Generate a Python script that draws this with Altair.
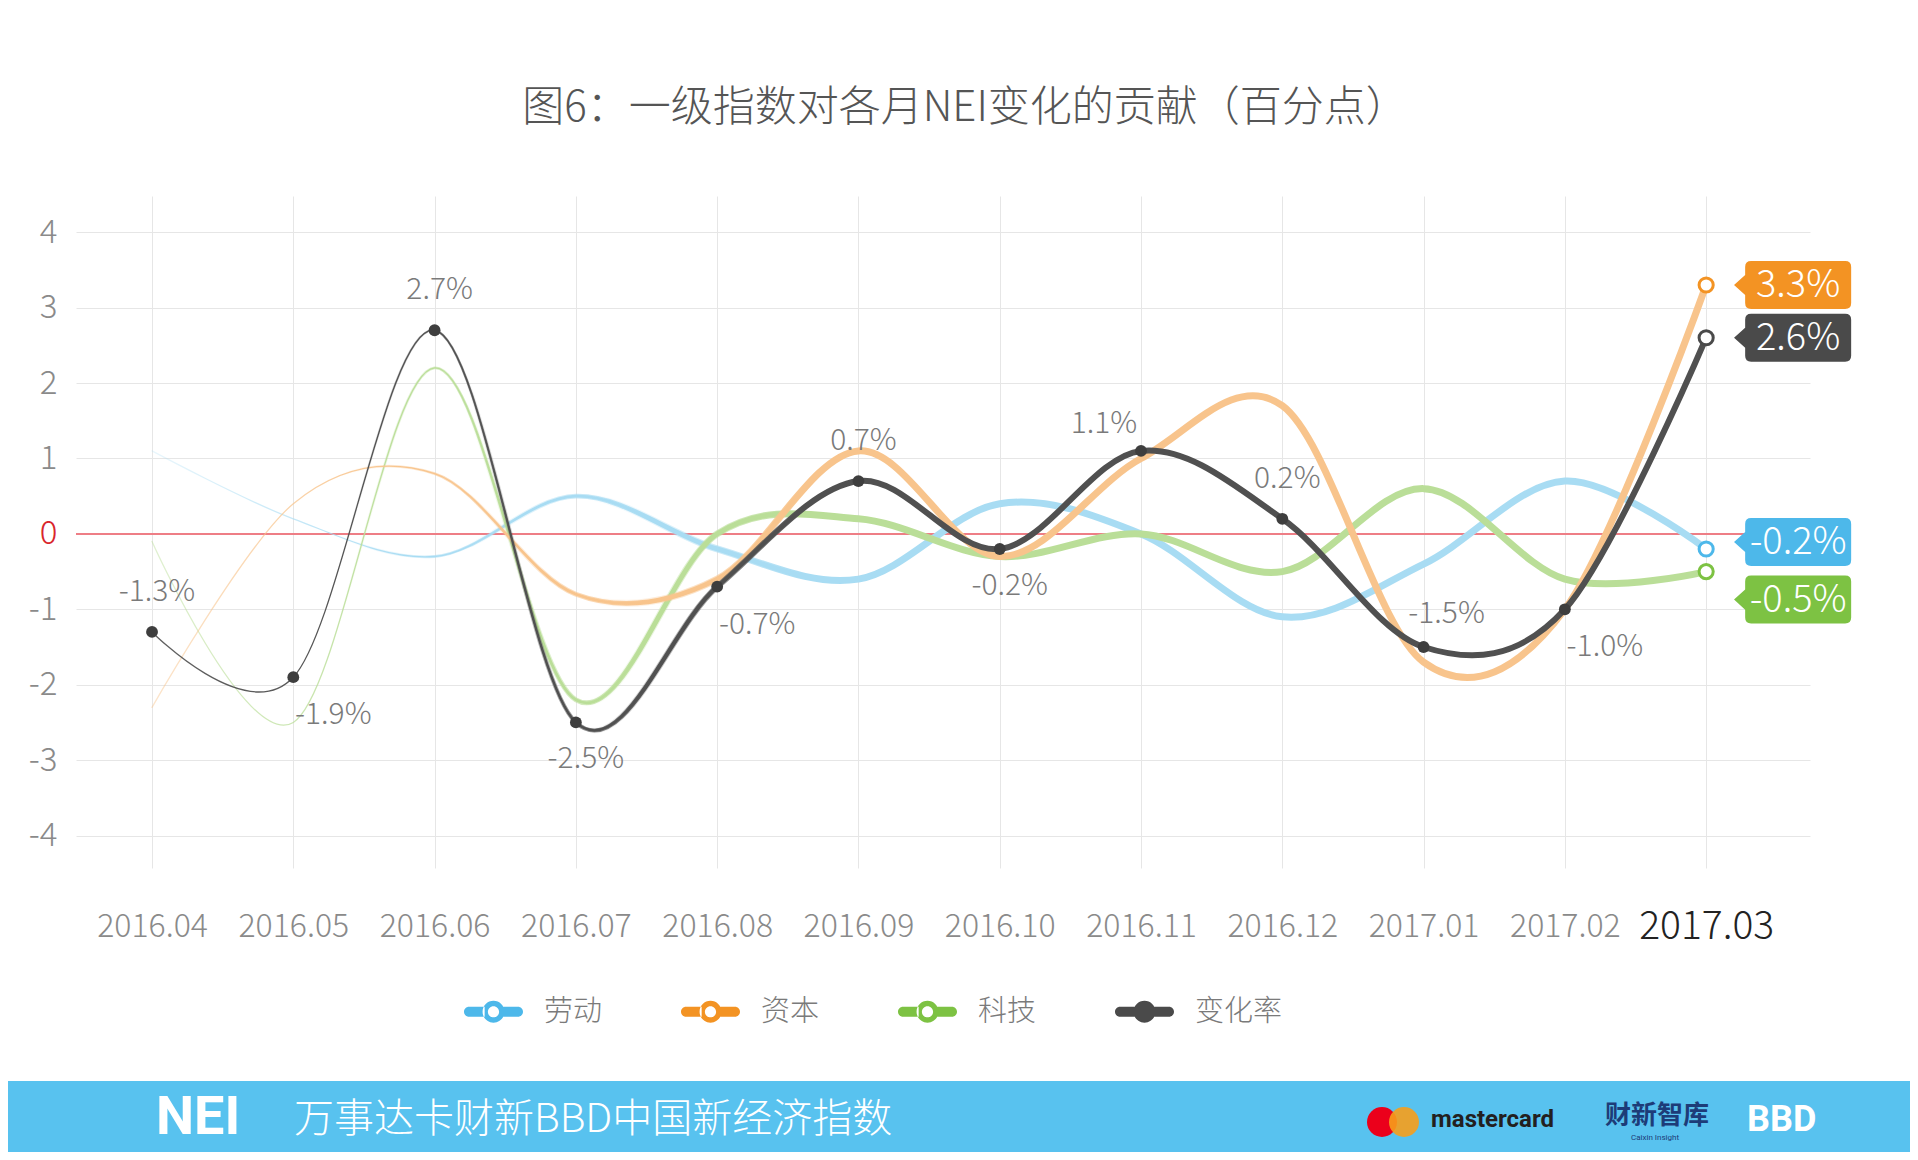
import altair as alt
import pandas as pd

# ---------------- data ----------------
months = ["2016.04", "2016.05", "2016.06", "2016.07", "2016.08", "2016.09",
          "2016.10", "2016.11", "2016.12", "2017.01", "2017.02", "2017.03"]
series_names = ["劳动", "资本", "科技", "变化率"]
labor = [1.1, 0.2, -0.3, 0.5, -0.2, -0.6, 0.4, 0.0, -1.1, -0.4, 0.7, -0.2]
capital = [-2.3, 0.4, 0.8, -0.8, -0.6, 1.1, -0.3, 1.0, 1.7, -1.7, -1.0, 3.3]
tech = [-0.1, -2.5, 2.2, -2.2, 0.0, 0.2, -0.3, 0.0, -0.5, 0.6, -0.6, -0.5]
change = [-1.3, -1.9, 2.7, -2.5, -0.7, 0.7, -0.2, 1.1, 0.2, -1.5, -1.0, 2.6]
y_ticks = [-4, -3, -2, -1, 0, 1, 2, 3, 4]
title_text = "图6：一级指数对各月NEI变化的贡献（百分点）"
footer_text = "万事达卡财新BBD中国新经济指数"

# label anchor of each 变化率 value label (last one is shown as a badge)
label_anchor = ["n", "se", "n", "s", "se", "n", "s", "nw", "n", "ne", "se", None]

# ---------------- styles ----------------
FONT = "Noto Sans CJK SC"
full_colors = {"劳动": "#4DB8EA", "资本": "#F39323", "科技": "#7DC243", "变化率": "#4A4A4A"}
line_colors = {"劳动": "#A8DCF3", "资本": "#F8C48C", "科技": "#BADE98", "变化率": "#505050"}
line_width = {"劳动": 7, "资本": 7, "科技": 7, "变化率": 6}
start_alpha = {"劳动": 0.25, "资本": 0.45, "科技": 0.45, "变化率": 0.9}
badge_dy = {"劳动": -7, "资本": 0, "科技": 28, "变化率": 0}
anchor_offsets = {"n": (5, -40), "s": (10, 37), "se": (40, 38), "ne": (23, -33), "nw": (-37, -27)}
draw_order = ["劳动", "科技", "资本", "变化率"]

W, H = 1734, 672
PAD = {"left": 68, "top": 188, "right": 100, "bottom": 284}

values_by_series = {"劳动": labor, "资本": capital, "科技": tech, "变化率": change}
rows = []
for s in series_names:
    for i, m in enumerate(months):
        v = values_by_series[s][i]
        rows.append({"series": s, "idx": i, "month": m, "value": v,
                     "label": f"{v:.1f}%", "anchor": label_anchor[i] if s == "变化率" else None})
df = pd.DataFrame(rows)
last = len(months) - 1


def rgba(hexc, a):
    h = hexc.lstrip("#")
    r, g, b = int(h[0:2], 16), int(h[2:4], 16), int(h[4:6], 16)
    return f"rgba({r},{g},{b},{a})"


label_expr = "[" + ",".join(f"'{m}'" for m in months) + "][datum.value]"

X = alt.X("idx:Q",
          scale=alt.Scale(domain=[-0.538, 11.735], nice=False, zero=False),
          axis=alt.Axis(values=list(range(len(months))), labelExpr=label_expr, title=None,
                        grid=True, gridColor="#E6E6E6", gridWidth=1, domain=False, ticks=False,
                        labelPadding=58, labelBaseline="middle", labelFont=FONT, labelFontWeight=300,
                        labelFontSize={"condition": {"test": f"datum.value == {last}", "value": 39}, "value": 32},
                        labelColor={"condition": {"test": f"datum.value == {last}", "value": "#222222"}, "value": "#8A8A8A"},
                        labelFlush=False, labelOverlap=False))
Y = alt.Y("value:Q",
          scale=alt.Scale(domain=[-4.43, 4.48], nice=False, zero=False),
          axis=alt.Axis(values=y_ticks, labelExpr="datum.value + ''", title=None,
                        grid=True, gridColor="#E6E6E6", gridWidth=1, domain=False, ticks=False,
                        labelPadding=19, labelFont=FONT, labelFontWeight=300, labelFontSize=33,
                        labelColor={"condition": {"test": "datum.value == 0", "value": "#D9262B"}, "value": "#8A8A8A"}))

base = alt.Chart(df)
layers = []

# zero line
layers.append(alt.Chart(df).mark_rule(color="#EE7E86", strokeWidth=2).encode(y=alt.datum(0)))

# lines: progressively thicker copies fading in along x
for s in draw_order:
    w = line_width[s]
    c = line_colors[s]
    copies = [
        (1.3, [(0, start_alpha[s]), (0.17, 1), (1, 1)]),
        (0.4 * w, [(0, 0), (0.12, 0), (0.24, 1), (1, 1)]),
        (0.7 * w, [(0, 0), (0.2, 0), (0.32, 1), (1, 1)]),
        (w, [(0, 0), (0.28, 0), (0.42, 1), (1, 1)]),
    ]
    for width, stops in copies:
        grad = alt.LinearGradient(gradient="linear", x1=0, x2=1, y1=0, y2=0,
                                  stops=[alt.GradientStop(offset=o, color=rgba(c, a)) for o, a in stops])
        layers.append(base.transform_filter(alt.datum.series == s)
                      .mark_line(interpolate="cardinal", stroke=grad, strokeWidth=width, strokeCap="round")
                      .encode(x=X, y=Y))

# black dots
layers.append(base.transform_filter((alt.datum.series == "变化率") & (alt.datum.idx < last))
              .mark_point(shape="circle", filled=True, fill="#3E3E3E", size=140, opacity=1)
              .encode(x=X, y=Y))

# end open circles
for s in draw_order:
    layers.append(base.transform_filter((alt.datum.series == s) & (alt.datum.idx == last))
                  .mark_point(shape="circle", filled=True, fill="white", stroke=full_colors[s],
                              strokeWidth=3, size=200, opacity=1)
                  .encode(x=X, y=Y))

# value labels of 变化率
for a, (dx, dy) in anchor_offsets.items():
    layers.append(base.transform_filter((alt.datum.series == "变化率") & (alt.datum.anchor == a))
                  .mark_text(font=FONT, fontWeight=300, fontSize=30, color="#7A7A7A",
                             align="center", baseline="middle", dx=dx, dy=dy)
                  .encode(x=X, y=Y, text="label:N"))

# badges at the end
badge_path = ("M-0.887 -0.453 L0.887 -0.453 Q1 -0.453 1 -0.34 L1 0.34 Q1 0.453 0.887 0.453 "
              "L-0.887 0.453 Q-1 0.453 -1 0.34 L-1 0.19 L-1.21 0 L-1 -0.19 L-1 -0.34 "
              "Q-1 -0.453 -0.887 -0.453 Z")
for s in series_names:
    sel = base.transform_filter((alt.datum.series == s) & (alt.datum.idx == last))
    layers.append(sel.mark_point(shape=badge_path, filled=True, fill=full_colors[s], size=106 * 106,
                                 opacity=1, strokeWidth=0, xOffset=92, yOffset=badge_dy[s])
                  .encode(x=X, y=Y))
    layers.append(sel.mark_text(font=FONT, fontWeight=300, fontSize=38, color="white",
                                align="center", baseline="middle", dx=92, dy=badge_dy[s] + 1)
                  .encode(x=X, y=Y, text="label:N"))

# legend (invisible points carrying the fill/shape legend)
ring_symbol = ("M-0.3 -0.17 L-0.83 -0.17 A0.17 0.17 0 0 0 -0.83 0.17 L-0.3 0.17 Z "
               "M0.3 -0.17 L0.83 -0.17 A0.17 0.17 0 0 1 0.83 0.17 L0.3 0.17 Z "
               "M-0.37 0 A0.37 0.37 0 1 1 0.37 0 A0.37 0.37 0 1 1 -0.37 0 Z "
               "M-0.19 0 A0.19 0.19 0 1 0 0.19 0 A0.19 0.19 0 1 0 -0.19 0 Z")
solid_symbol = ("M-0.83 -0.17 L0.83 -0.17 A0.17 0.17 0 0 1 0.83 0.17 L-0.83 0.17 "
                "A0.17 0.17 0 0 1 -0.83 -0.17 Z "
                "M-0.37 0 A0.37 0.37 0 1 1 0.37 0 A0.37 0.37 0 1 1 -0.37 0 Z")
legend_symbols = {"劳动": ring_symbol, "资本": ring_symbol, "科技": ring_symbol, "变化率": solid_symbol}


def make_legend():
    return alt.Legend(title=None, orient="none", legendX=388, legendY=786,
                      direction="horizontal", symbolSize=3481, symbolStrokeWidth=0,
                      symbolOpacity=1,
                      labelFont=FONT, labelFontWeight=300, labelFontSize=29,
                      labelColor="#7A7A7A", labelOffset=21, columnPadding=78, padding=0)


layers.append(base.transform_filter(alt.datum.idx == last)
              .mark_point(filled=True, size=0, opacity=1)
              .encode(x=X, y=Y,
                      fill=alt.Fill("series:N",
                                    scale=alt.Scale(domain=series_names,
                                                    range=[full_colors[s] for s in series_names]),
                                    legend=make_legend()),
                      shape=alt.Shape("series:N",
                                      scale=alt.Scale(domain=series_names,
                                                      range=[legend_symbols[s] for s in series_names]),
                                      legend=make_legend())))

# footer band
one = alt.Data(values=[{}])
layers.append(alt.Chart(one).mark_rect(color="#58C2EF").encode(
    x=alt.value(-PAD["left"]), x2=alt.value(W + PAD["right"]), y=alt.value(885), y2=alt.value(H + PAD["bottom"])))
layers.append(alt.Chart(one).mark_text(text=footer_text, font=FONT, fontWeight=300, fontSize=40, color="white",
                                       align="left", baseline="middle").encode(x=alt.value(218), y=alt.value(924)))
layers.append(alt.Chart(one).mark_text(text="NEI", font="Roboto", fontWeight="bold", fontSize=54, color="white",
                                       align="left", baseline="middle").encode(x=alt.value(80), y=alt.value(922)))
layers.append(alt.Chart(one).mark_circle(color="#EB001B", size=900, opacity=1).encode(x=alt.value(1306), y=alt.value(926)))
layers.append(alt.Chart(one).mark_circle(color="#F79E1B", size=900, opacity=0.9).encode(x=alt.value(1328), y=alt.value(926)))
layers.append(alt.Chart(one).mark_text(text="mastercard", font="Roboto", fontWeight="bold", fontSize=24, color="#231F20",
                                       align="left", baseline="middle").encode(x=alt.value(1355), y=alt.value(924)))
layers.append(alt.Chart(one).mark_text(text="财新智库", font=FONT, fontWeight="bold", fontSize=26, color="#1D3C78",
                                       align="left", baseline="middle").encode(x=alt.value(1529), y=alt.value(920)))
layers.append(alt.Chart(one).mark_text(text="Caixin Insight", font="Roboto", fontSize=8, color="#1D3C78",
                                       align="center", baseline="middle").encode(x=alt.value(1579), y=alt.value(942)))
layers.append(alt.Chart(one).mark_text(text="BBD", font="Roboto", fontWeight="bold", fontSize=36, color="white",
                                       align="left", baseline="middle").encode(x=alt.value(1671), y=alt.value(924)))

chart = alt.layer(*layers).properties(
    width=W, height=H,
    padding=PAD,
    autosize=alt.AutoSizeParams(type="none"),
    background="white",
    title=alt.TitleParams(title_text, font=FONT, fontWeight=300, fontSize=42, color="#555555",
                          anchor="middle", frame="group", offset=66, dx=22),
).configure_view(strokeWidth=0)

chart.save("out.html", embed_options={"renderer": "svg", "actions": False})
